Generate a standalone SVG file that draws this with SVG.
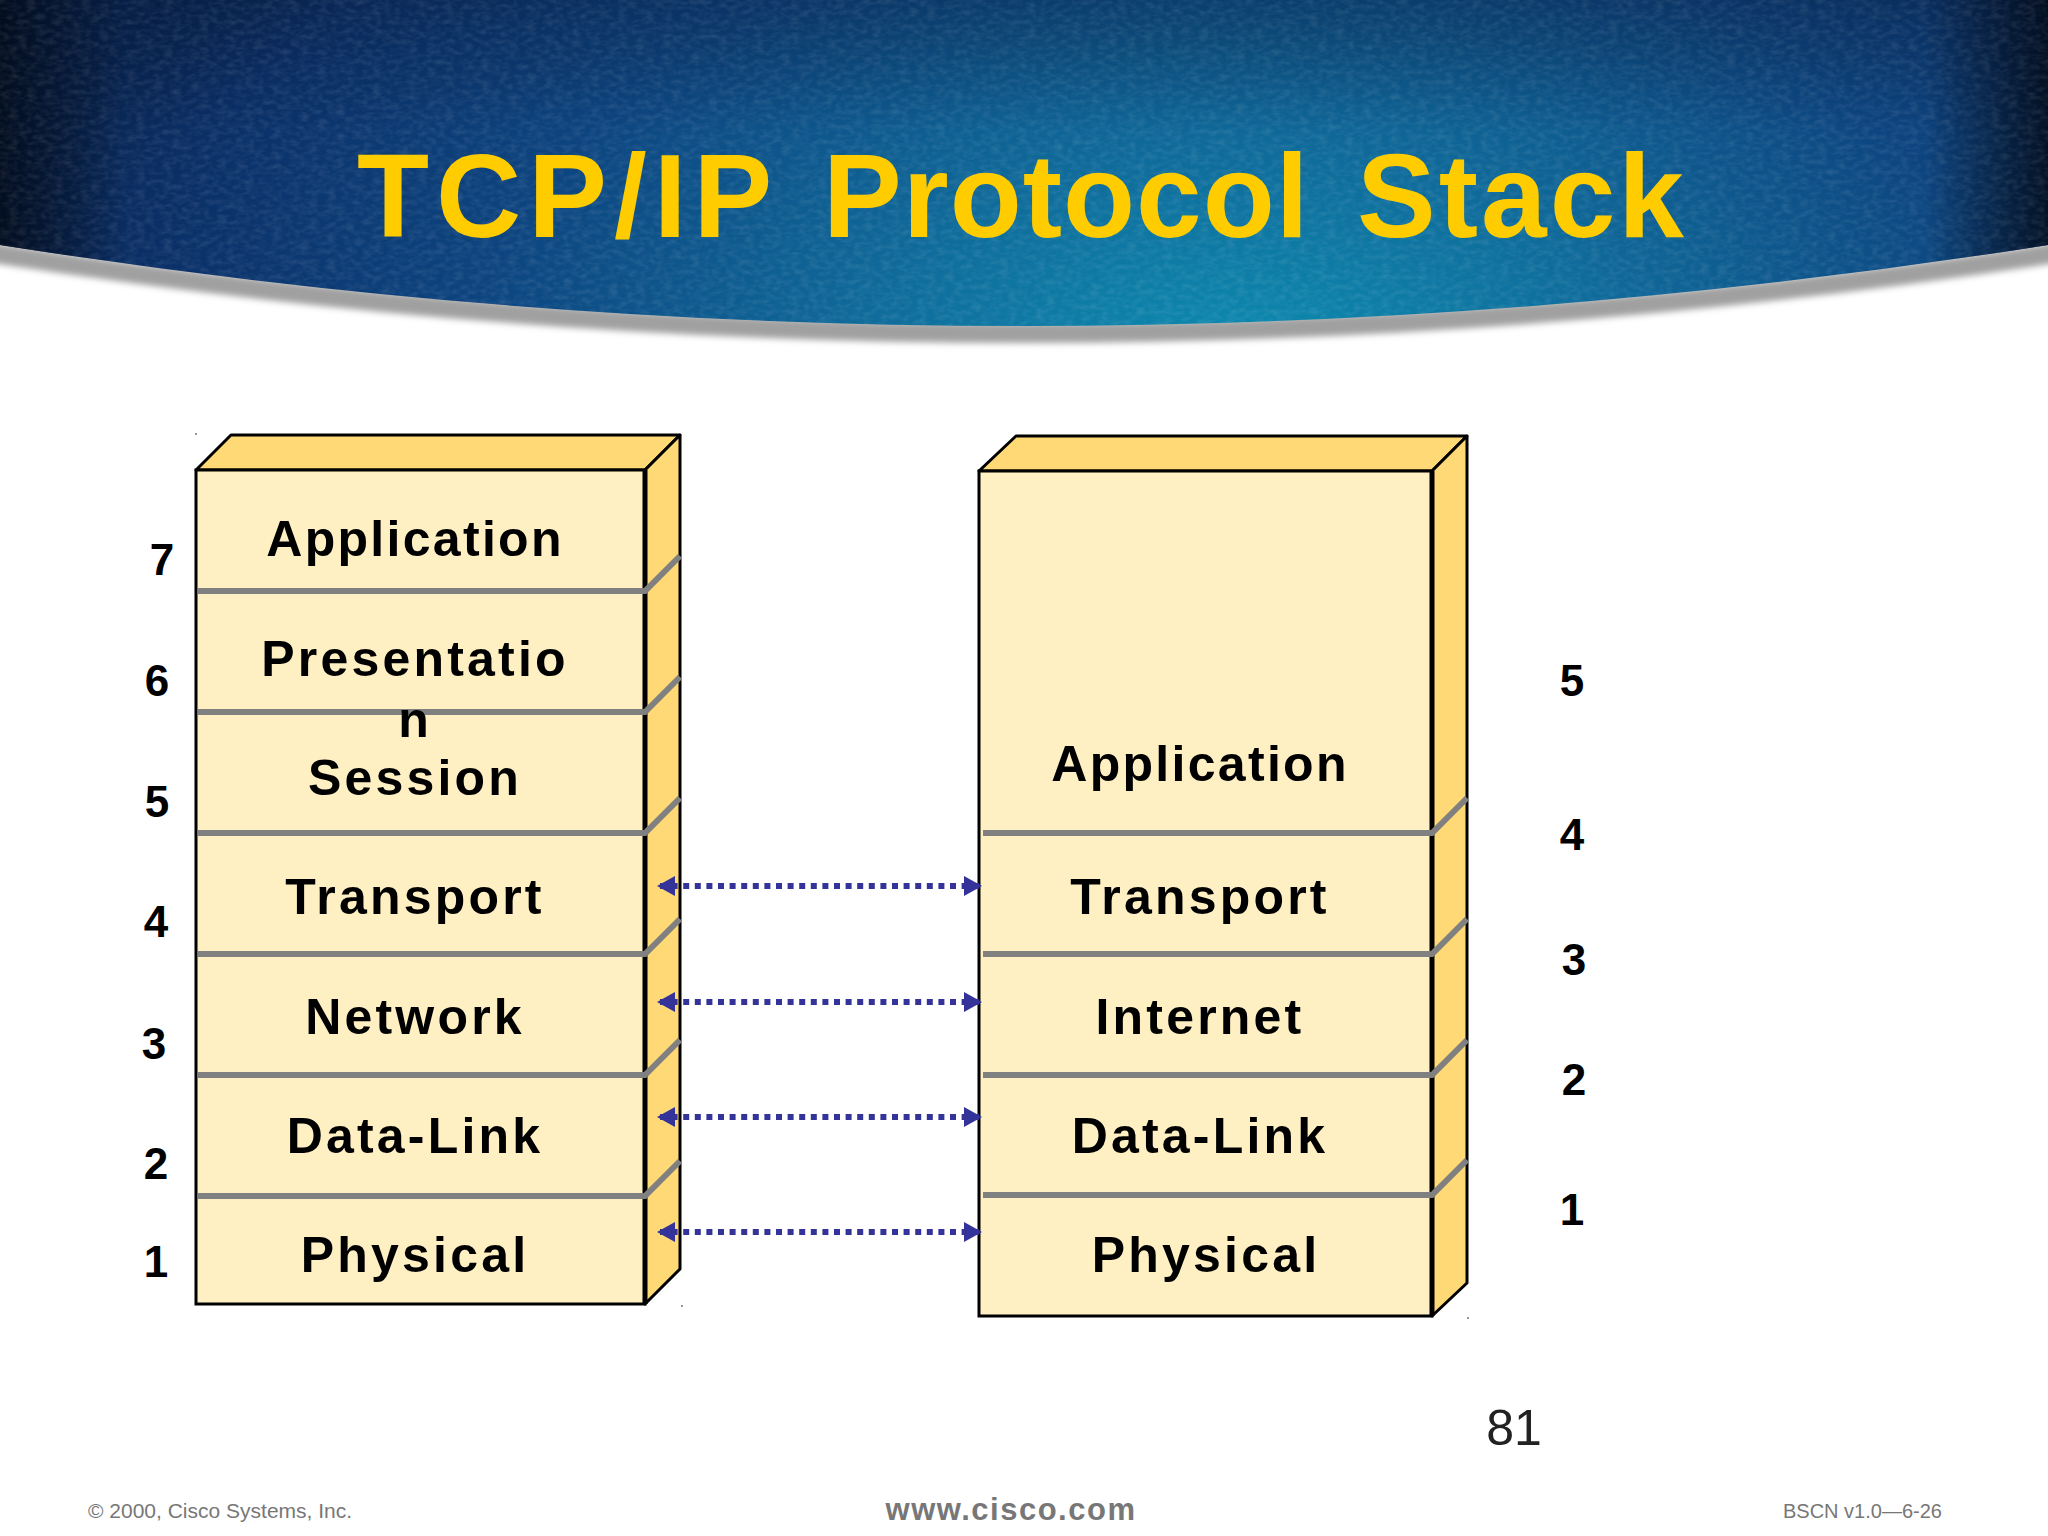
<svg xmlns="http://www.w3.org/2000/svg" width="2048" height="1536" viewBox="0 0 2048 1536">
<style>
.front{fill:#fef0c3;stroke:#000;stroke-width:3}
.side{fill:#ffd975;stroke:#000;stroke-width:3;stroke-linejoin:round}
.div{fill:none;stroke:#808080;stroke-width:6}
.lay{font:bold 50px "Liberation Sans",Arial,sans-serif;letter-spacing:3.2px;text-anchor:middle;fill:#000}
.app{letter-spacing:2.3px}
.num{font:bold 44px "Liberation Sans",Arial,sans-serif;text-anchor:middle;fill:#000}
.foot{font-family:"Liberation Sans",Arial,sans-serif;fill:#777}
.speck{fill:#999}
.link{stroke:#333399;stroke-width:6;stroke-dasharray:6 5.6;marker-start:url(#hl);marker-end:url(#hr)}
</style>
<defs>
<radialGradient id="blue" gradientUnits="userSpaceOnUse" cx="1240" cy="320" r="1250" gradientTransform="translate(0 190) scale(1 .6)">
<stop offset="0" stop-color="#0d8fb2"/><stop offset=".3" stop-color="#0f6c9b"/><stop offset=".62" stop-color="#0d447f"/><stop offset=".88" stop-color="#0b3068"/><stop offset="1" stop-color="#082450"/>
</radialGradient>
<linearGradient id="edge" x1="0" x2="1" y1="0" y2="0">
<stop offset="0" stop-color="#020a18" stop-opacity=".85"/><stop offset=".06" stop-color="#020a18" stop-opacity="0"/><stop offset=".94" stop-color="#020a18" stop-opacity="0"/><stop offset="1" stop-color="#020a18" stop-opacity=".85"/>
</linearGradient>
<linearGradient id="topd" x1="0" x2="0" y1="0" y2="1">
<stop offset="0" stop-color="#04122c" stop-opacity=".3"/><stop offset=".4" stop-color="#04122c" stop-opacity="0"/>
</linearGradient>
<filter id="grain" x="0" y="0" width="100%" height="100%">
<feTurbulence type="fractalNoise" baseFrequency=".11 .2" numOctaves="2" seed="4" result="n"/>
<feColorMatrix in="n" type="matrix" values="0 0 0 0 1  0 0 0 0 1  0 0 0 0 1  1.2 0 0 0 -.45"/>
<feComposite operator="in" in2="SourceAlpha"/>
</filter>
<filter id="soft" filterUnits="userSpaceOnUse" x="-20" y="200" width="2088" height="180"><feGaussianBlur stdDeviation="3"/></filter>
<marker id="hl" markerUnits="userSpaceOnUse" markerWidth="18" markerHeight="20" refX="3" refY="10" orient="auto"><path d="M0 10L18 0V20Z" fill="#333399"/></marker>
<marker id="hr" markerUnits="userSpaceOnUse" markerWidth="18" markerHeight="20" refX="15" refY="10" orient="auto"><path d="M0 0L18 10L0 20Z" fill="#333399"/></marker>
</defs>
<rect width="2048" height="1536" fill="#fff"/>
<g id="banner">
<path d="M-20 251Q1024 415 2068 251" fill="none" stroke="#a0a0a0" stroke-width="20" filter="url(#soft)"/>
<path id="arc" d="M0 245Q1024 407 2048 245V0H0Z" fill="url(#blue)"/>
<path d="M0 245Q1024 407 2048 245V0H0Z" fill="url(#topd)"/>
<path d="M0 245Q1024 407 2048 245V0H0Z" fill="url(#edge)"/>
<path d="M0 245Q1024 407 2048 245V0H0Z" fill="#fff" filter="url(#grain)" opacity=".16"/>
</g>
<text id="title" y="237" font-family="Liberation Sans,Arial,sans-serif" font-weight="bold" font-size="118" fill="#ffcc00"><tspan x="357" letter-spacing="7">TCP/IP</tspan> <tspan x="823" letter-spacing="1">Protocol</tspan> <tspan x="1357" letter-spacing="3">Stack</tspan></text>
<g id="osi-stack">
<path class="side" d="M196 470L231 435H680L645 470Z"/>
<path class="side" d="M645 470L680 435V1269L645 1304Z"/>
<rect class="front" x="196" y="470" width="449" height="834"/>
<line x1="645" y1="470" x2="645" y2="1304" stroke="#000" stroke-width="5"/>
<g id="osi-application"><path class="div" d="M198 591H645L680 556"/><text class="lay app" x="415" y="556">Application</text></g>
<g id="osi-presentation"><path class="div" d="M198 712H645L680 677"/><text class="lay" x="415" y="676">Presentatio</text><text class="lay" x="415" y="737">n</text></g>
<g id="osi-session"><path class="div" d="M198 833H645L680 798"/><text class="lay" x="415" y="795">Session</text></g>
<g id="osi-transport"><path class="div" d="M198 954H645L680 919"/><text class="lay" x="415" y="914">Transport</text></g>
<g id="osi-network"><path class="div" d="M198 1075H645L680 1040"/><text class="lay" x="415" y="1034">Network</text></g>
<g id="osi-datalink"><path class="div" d="M198 1196H645L680 1161"/><text class="lay" x="415" y="1153">Data-Link</text></g>
<g id="osi-physical"><text class="lay" x="415" y="1272">Physical</text></g>
<rect class="speck" x="195" y="433" width="2" height="2"/><rect class="speck" x="681" y="1305" width="2" height="2"/>
</g>
<g id="tcpip-stack">
<path class="side" d="M979 471L1016 436H1467L1432 471Z"/>
<path class="side" d="M1432 471L1467 436V1283L1432 1316Z"/>
<rect class="front" x="979" y="471" width="453" height="845"/>
<line x1="1432" y1="471" x2="1432" y2="1316" stroke="#000" stroke-width="5"/>
<g id="tcp-application"><path class="div" d="M983 833H1432L1467 798"/><text class="lay app" x="1200" y="781">Application</text></g>
<g id="tcp-transport"><path class="div" d="M983 954H1432L1467 919"/><text class="lay" x="1200" y="914">Transport</text></g>
<g id="tcp-internet"><path class="div" d="M983 1075H1432L1467 1040"/><text class="lay" x="1200" y="1034">Internet</text></g>
<g id="tcp-datalink"><path class="div" d="M983 1195H1432L1467 1160"/><text class="lay" x="1200" y="1153">Data-Link</text></g>
<g id="tcp-physical"><text class="lay" x="1206" y="1272">Physical</text></g>
<rect class="speck" x="1467" y="1317" width="2" height="2"/>
</g>
<g id="connectors">
<line class="link" x1="660" y1="886" x2="979" y2="886"/>
<line class="link" x1="660" y1="1002" x2="979" y2="1002"/>
<line class="link" x1="660" y1="1117" x2="979" y2="1117"/>
<line class="link" x1="660" y1="1232" x2="979" y2="1232"/>
</g>
<g id="osi-numbers">
<text class="num" x="162" y="575">7</text><text class="num" x="157" y="696">6</text><text class="num" x="157" y="817">5</text><text class="num" x="156" y="937">4</text><text class="num" x="154" y="1059">3</text><text class="num" x="156" y="1179">2</text><text class="num" x="156" y="1277">1</text>
</g>
<g id="tcpip-numbers">
<text class="num" x="1572" y="696">5</text><text class="num" x="1572" y="850">4</text><text class="num" x="1574" y="975">3</text><text class="num" x="1574" y="1095">2</text><text class="num" x="1572" y="1225">1</text>
</g>
<text id="page" x="1514" y="1445" font-family="Liberation Sans,Arial,sans-serif" font-size="50" text-anchor="middle" fill="#222">81</text>
<g id="footer">
<text class="foot" x="88" y="1518" font-size="21">© 2000, Cisco Systems, Inc.</text>
<text class="foot" x="1011" y="1520" font-size="31" font-weight="bold" letter-spacing="1.5" text-anchor="middle">www.cisco.com</text>
<text class="foot" x="1783" y="1518" font-size="20">BSCN v1.0—6-26</text>
</g>
</svg>
